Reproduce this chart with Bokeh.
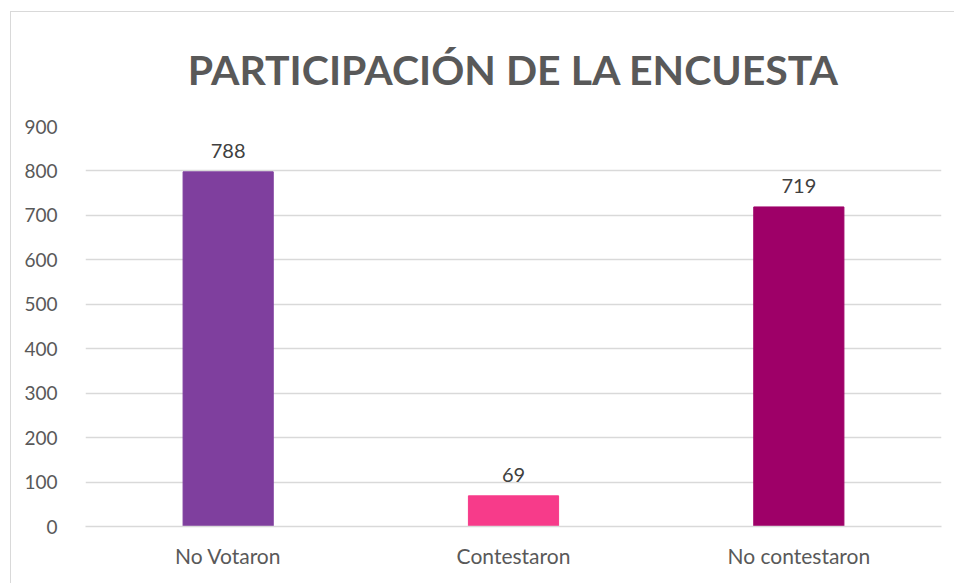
from bokeh.plotting import figure
from bokeh.models import ColumnDataSource, FixedTicker, Range1d
from bokeh.embed import file_html
from bokeh.resources import INLINE

title_text = "PARTICIPACIÓN DE LA ENCUESTA"
categories = ["No Votaron", "Contestaron", "No contestaron"]
values = [798, 69, 719]
labels = ["788", "69", "719"]
colors = ["#7f3f9e", "#f73b8a", "#9e0068"]
y_ticks = [0, 100, 200, 300, 400, 500, 600, 700, 800, 900]

src = ColumnDataSource(dict(cat=categories, val=values, lab=labels, col=colors))

p = figure(x_range=categories, y_range=Range1d(0, 900), width=944, height=572,
           output_backend="svg", toolbar_location=None,
           min_border_left=74, min_border_right=14, min_border_bottom=58, min_border_top=114,
           title=title_text,
           styles={"margin-left": "10px", "margin-top": "11px",
                   "border-top": "1px solid #d9d9d9", "border-left": "1px solid #d9d9d9"})

p.vbar(x="cat", top="val", width=0.316, color="col", source=src)
p.text(x="cat", y="val", text="lab", source=src, text_align="center", text_baseline="bottom",
       y_offset=-14, text_font_size="20px", text_color="#404040", text_font={"value": "Lato"})

p.title.align = "center"
p.title.vertical_align = "top"
p.title.text_font = "Lato"
p.title.text_font_size = "41px"
p.title.text_font_style = "bold"
p.title.text_color = "#595959"
p.title.standoff = 62

p.outline_line_color = None
p.xgrid.grid_line_color = None
p.ygrid.grid_line_color = "#d9d9d9"
p.ygrid.grid_line_width = 1.5
p.yaxis.ticker = FixedTicker(ticks=y_ticks)

for ax in (p.xaxis, p.yaxis):
    ax.axis_line_color = None
    ax.major_tick_line_color = None
    ax.minor_tick_line_color = None
    ax.major_label_text_font = "Lato"
    ax.major_label_text_font_size = "19px"
    ax.major_label_text_color = "#595959"
p.xaxis.major_label_text_font_size = "21px"
p.xaxis.axis_line_color = "#d9d9d9"
p.xaxis.axis_line_width = 1.5
p.xaxis.major_label_standoff = 10
p.yaxis.major_label_standoff = 22

open("out.html", "w").write(file_html(p, INLINE))
